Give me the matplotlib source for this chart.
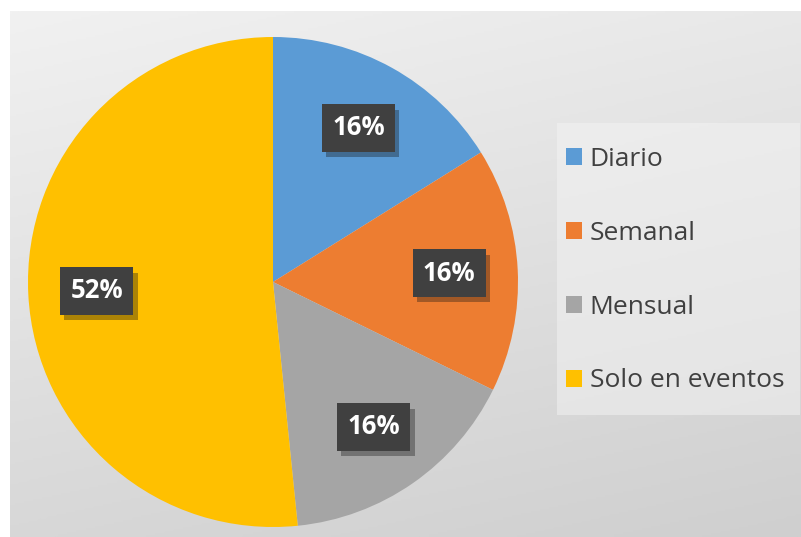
import numpy as np
import matplotlib.pyplot as plt
from matplotlib.patches import Patch, Rectangle
import matplotlib.patheffects as pe

# counts per answer (5/31 ~ 16%, 16/31 ~ 52%)
labels = ['Diario', 'Semanal', 'Mensual', 'Solo en eventos']
counts = [5, 5, 5, 16]
colors = ['#5B9BD5', '#ED7D31', '#A5A5A5', '#FFC000']

plt.rcParams['font.family'] = ['Open Sans', 'DejaVu Sans']

fig = plt.figure(figsize=(8.01, 5.37), dpi=100)
fig.patch.set_facecolor('white')

# gradient chart area
bg = fig.add_axes([10 / 801, 0, 791 / 801, 526 / 537])
grad = np.linspace(0, 1, 256).reshape(-1, 1) * 0.75 + np.linspace(0, 1, 256).reshape(1, -1) * 0.25
bg.imshow(grad, cmap=plt.matplotlib.colors.LinearSegmentedColormap.from_list('g', ['#f1f1f1', '#cfcfcf']),
          aspect='auto', extent=[0, 1, 0, 1], origin='upper')
bg.set_axis_off()

ax = fig.add_axes([28 / 801, 10 / 537, 490 / 801, 490 / 537])
wedges, texts, autotexts = ax.pie(counts, colors=colors, startangle=90, counterclock=False,
                                  autopct='%1.0f%%', pctdistance=0.72,
                                  wedgeprops=dict(linewidth=0))
for t in autotexts:
    t.set_color('white')
    t.set_fontsize(18.5)
    t.set_fontweight('bold')
    t.set_bbox(dict(boxstyle='square,pad=0.4', facecolor='#404040', edgecolor='none'))
    t.get_bbox_patch().set_path_effects([pe.withSimplePatchShadow(offset=(3, -4), alpha=0.35)])
ax.set_xlim(-1, 1)
ax.set_ylim(-1, 1)
ax.set_aspect('equal')

# legend panel
fig.patches.append(Rectangle((557 / 801, 1 - 415 / 537), 243 / 801, 292 / 537,
                             transform=fig.transFigure, facecolor='#f4f4f4', alpha=0.5,
                             edgecolor='none', zorder=0.5))

handles = [Patch(facecolor=c, edgecolor='none') for c in colors]
leg = fig.legend(handles, labels, loc='upper left', bbox_to_anchor=(566 / 801, 1 - 147 / 537),
                 fontsize=19, frameon=False, labelspacing=1.85,
                 handlelength=0.6, handleheight=0.6, handletextpad=0.3,
                 borderpad=0, borderaxespad=0)
for t in leg.get_texts():
    t.set_color('#404040')

fig.savefig('out.png', dpi=100)
